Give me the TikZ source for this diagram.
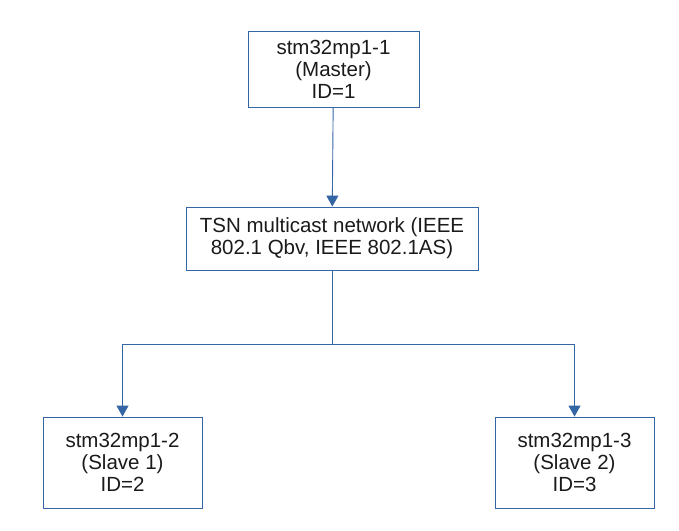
\documentclass[tikz,border=0pt]{standalone}
\usepackage{fontspec}
\setmainfont{Liberation Sans}
\definecolor{LinkBlue}{HTML}{3465A4}
\definecolor{TextDark}{HTML}{1A1A1A}
\usetikzlibrary{positioning, calc, arrows.meta}

\begin{document}
\begin{tikzpicture}[x=1pt, y=-1pt,
    box/.style={draw=LinkBlue, line width=0.9pt, align=center,
      inner sep=0pt, text=TextDark, font=\fontsize{20.5}{22}\selectfont},
    link/.style={draw=LinkBlue, line width=0.9pt},
    tip/.style={-{Triangle[width=12pt, length=11pt]}}]
  \useasboundingbox (0,0) rectangle (679,530);

  %% nodes
  \node[box, minimum width=171pt, minimum height=76pt] (master) at (333.5,69)
    {stm32mp1-1\\(Master)\\ID=1};
  \node[box, minimum width=292pt, minimum height=63pt] (net) at (332,238.5)
    {TSN multicast network (IEEE\\802.1 Qbv, IEEE 802.1AS)};
  \node[box, minimum width=159pt, minimum height=91pt] (slaveA) at (122.5,462.5)
    {stm32mp1-2\\(Slave 1)\\ID=2};
  \node[box, minimum width=159pt, minimum height=91pt] (slaveB) at (574.5,462.5)
    {stm32mp1-3\\(Slave 2)\\ID=3};

  %% connectors
  \coordinate (split) at (net.south |- 0,344);
  \draw[link, tip] (master) -- (net);
  \draw[link] (net) -- (split);
  \draw[link, tip] (split) -| (slaveA);
  \draw[link, tip] (split) -| (slaveB);
\end{tikzpicture}
\end{document}
